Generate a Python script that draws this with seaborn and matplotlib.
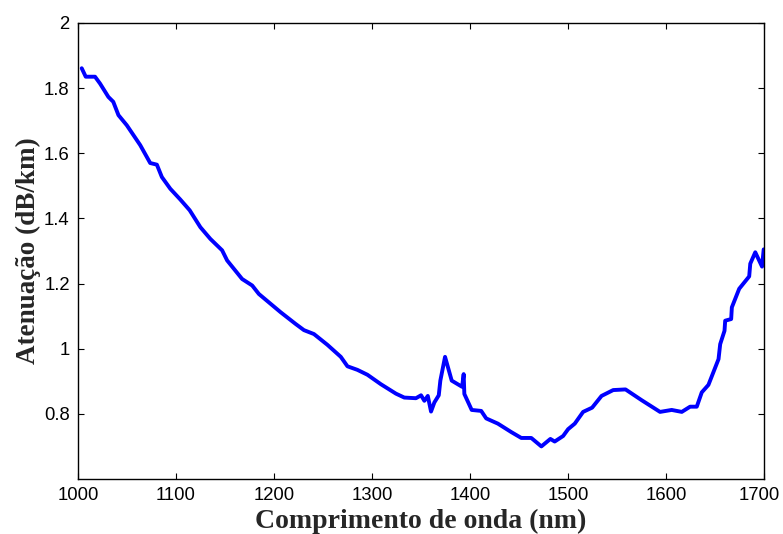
import matplotlib
matplotlib.use("Agg")
import matplotlib.pyplot as plt
import matplotlib.transforms as mtransforms
import seaborn as sns
import numpy as np

# wavelength (nm) and attenuation (dB/km)
wavelength = [1003.8, 1007.9, 1017.4, 1022.5, 1031.0, 1036.0, 1041.3, 1049.8, 1063.5,
              1073.7, 1080.5, 1085.6, 1094.2, 1104.4, 1114.0, 1124.9, 1135.1, 1147.1,
              1152.2, 1167.5, 1177.8, 1184.6, 1206.8, 1222.1, 1230.6, 1240.8, 1254.5,
              1268.2, 1275.0, 1285.2, 1295.4, 1309.1, 1324.5, 1333.0, 1344.9, 1350.1,
              1353.5, 1357.0, 1360.3, 1363.7, 1368.2, 1369.8, 1374.6, 1381.4, 1392.0,
              1393.6, 1394.3, 1401.8, 1411.5, 1416.6, 1428.5, 1442.2, 1452.4, 1462.6,
              1472.9, 1482.1, 1486.5, 1495.1, 1500.2, 1507.0, 1515.5, 1524.7, 1534.3,
              1546.2, 1558.8, 1575.2, 1594.0, 1605.9, 1616.2, 1624.7, 1631.5, 1636.6,
              1643.4, 1653.7, 1655.4, 1659.8, 1660.5, 1666.6, 1667.3, 1674.8, 1685.0,
              1686.1, 1691.2, 1698.1, 1699.8]
attenuation = [1.861, 1.835, 1.835, 1.814, 1.773, 1.758, 1.717, 1.686, 1.625,
               1.570, 1.565, 1.527, 1.491, 1.458, 1.425, 1.373, 1.337, 1.302,
               1.271, 1.214, 1.194, 1.168, 1.112, 1.076, 1.057, 1.045, 1.012,
               0.975, 0.946, 0.935, 0.920, 0.891, 0.862, 0.850, 0.848, 0.857,
               0.840, 0.855, 0.807, 0.835, 0.857, 0.902, 0.975, 0.902, 0.883,
               0.922, 0.861, 0.812, 0.809, 0.786, 0.770, 0.744, 0.726, 0.726,
               0.700, 0.723, 0.715, 0.732, 0.753, 0.770, 0.806, 0.819, 0.855,
               0.873, 0.875, 0.842, 0.806, 0.812, 0.806, 0.822, 0.822, 0.866,
               0.889, 0.968, 1.014, 1.055, 1.086, 1.091, 1.127, 1.184, 1.222,
               1.261, 1.296, 1.252, 1.305]

xticks = [1000, 1100, 1200, 1300, 1400, 1500, 1600, 1700]
yticks = [0.8, 1.0, 1.2, 1.4, 1.6, 1.8, 2.0]
ytick_labels = ["0.8", "1", "1.2", "1.4", "1.6", "1.8", "2"]

sns.set_style("white")
plt.rcParams["font.family"] = ["Liberation Sans", "DejaVu Sans"]

fig = plt.figure(figsize=(7.83, 5.34), dpi=100)
ax = fig.add_axes([0.0996, 0.103, 0.876, 0.854])

sns.lineplot(x=wavelength, y=attenuation, sort=False, estimator=None,
             color="#0000ff", linewidth=2.8, ax=ax)

ax.set_xlim(1000, 1700)
ax.set_ylim(0.6, 2.0)
ax.set_xticks(xticks)
ax.set_xticklabels([str(t) for t in xticks])
ax.set_yticks(yticks)
ax.set_yticklabels(ytick_labels)
ax.tick_params(direction="in", length=4, width=0.8, labelsize=13.3,
               top=True, right=True, bottom=True, left=True, pad=6,
               colors="black")

# nudge the last x label so it stays inside the figure
last = ax.get_xticklabels()[-1]
last.set_transform(last.get_transform() +
                   mtransforms.ScaledTranslation(-5 / 100, 0, fig.dpi_scale_trans))

for s in ax.spines.values():
    s.set_visible(True)
    s.set_color("black")
    s.set_linewidth(1.0)

ax.set_xlabel("Comprimento de onda (nm)", fontsize=20, fontweight="bold",
              family="Liberation Serif", labelpad=3)
ax.set_ylabel("Atenuação (dB/km)", fontsize=19.5, fontweight="bold",
              family="Liberation Serif", labelpad=2)

fig.savefig("out.png", dpi=100, facecolor="white")
